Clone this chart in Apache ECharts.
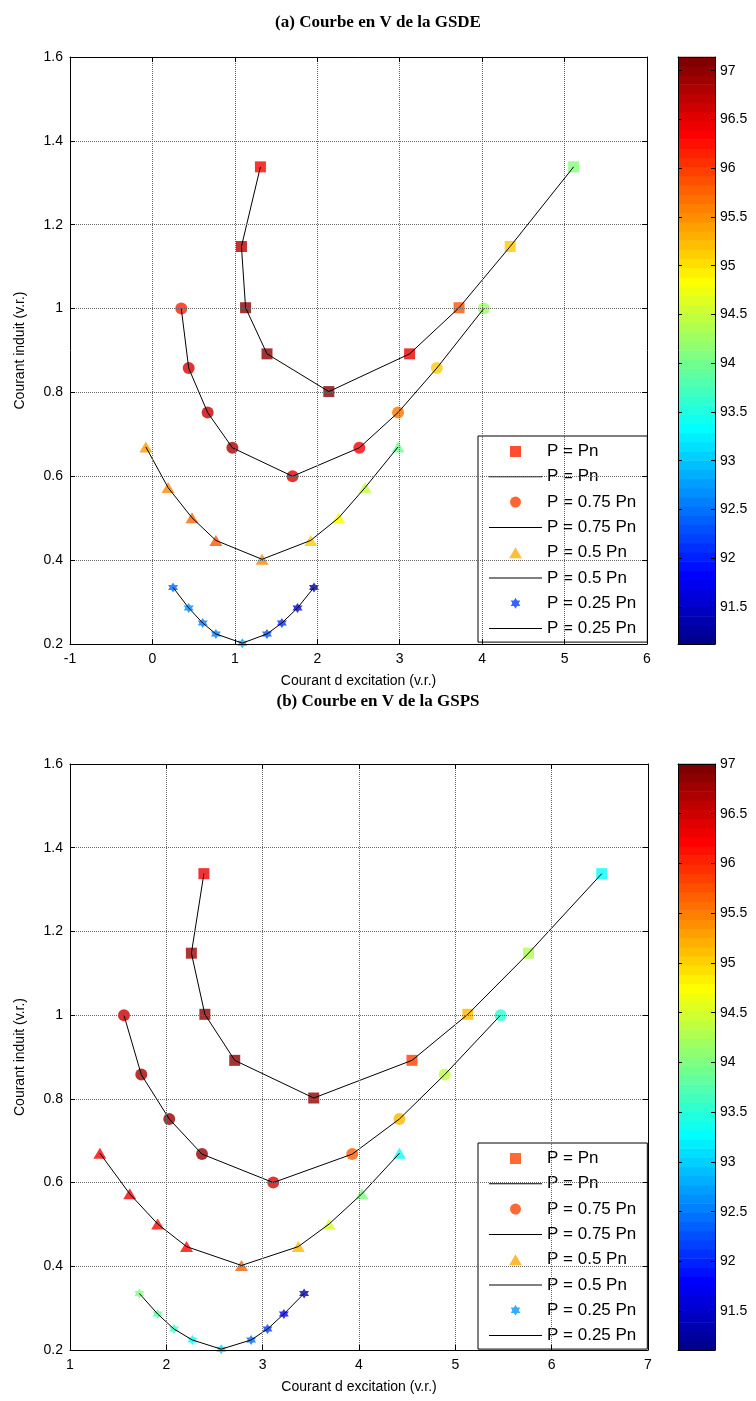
<!DOCTYPE html>
<html><head><meta charset="utf-8">
<script src="https://cdn.jsdelivr.net/npm/echarts@6/dist/echarts.min.js"></script>
<style>html,body{margin:0;padding:0;background:#fff}#c{width:756px;height:1401px}</style>
</head><body><div id="c"></div>
<script>
// ---------------- data ----------------
const curveNames = ['P = Pn', 'P = 0.75 Pn', 'P = 0.5 Pn', 'P = 0.25 Pn'];
// armature current (v.r.) - same for both machines
const yPn  = [1.338, 1.148, 1.002, 0.892, 0.802, 0.892, 1.002, 1.148, 1.338];
const y075 = [1.0, 0.858, 0.752, 0.668, 0.6, 0.668, 0.752, 0.858, 1.0];
const y050 = [0.67, 0.573, 0.501, 0.447, 0.402, 0.447, 0.501, 0.573, 0.67];
const y025 = [0.335, 0.286, 0.25, 0.224, 0.202, 0.224, 0.25, 0.286, 0.335];

// (a) GSDE : excitation current and efficiency (colour)
const xA_Pn  = [1.31, 1.08, 1.13, 1.39, 2.14, 3.12, 3.72, 4.34, 5.11];
const eA_Pn  = [96.4, 96.8, 97.05, 97.05, 97.1, 96.5, 95.9, 95.17, 94.12];
const xA_075 = [0.35, 0.44, 0.67, 0.97, 1.70, 2.51, 2.98, 3.45, 4.02];
const eA_075 = [96.2, 96.6, 96.7, 96.9, 96.55, 96.4, 95.68, 95.15, 94.27];
const xA_050 = [-0.08, 0.19, 0.48, 0.77, 1.33, 1.92, 2.26, 2.58, 2.98];
const eA_050 = [95.47, 95.56, 95.77, 95.86, 95.56, 95.17, 94.87, 94.48, 93.97];
const xA_025 = [0.25, 0.44, 0.61, 0.77, 1.09, 1.39, 1.57, 1.76, 1.96];
const eA_025 = [92.44, 92.62, 92.55, 92.55, 92.8, 92.25, 92.05, 91.55, 91.15];

// (b) GSPS
const xB_Pn  = [2.39, 2.26, 2.40, 2.71, 3.53, 4.55, 5.13, 5.76, 6.52];
const eB_Pn  = [96.35, 96.8, 96.95, 96.9, 96.9, 95.88, 95.17, 94.29, 93.29];
const xB_075 = [1.56, 1.74, 2.03, 2.37, 3.11, 3.93, 4.42, 4.89, 5.47];
const eB_075 = [96.56, 96.76, 96.85, 96.85, 96.45, 95.7, 95.17, 94.4, 93.5];
const xB_050 = [1.31, 1.62, 1.91, 2.21, 2.78, 3.37, 3.69, 4.03, 4.42];
const eB_050 = [96.3, 96.3, 96.2, 96.2, 95.7, 95.17, 94.5, 94.0, 93.29];
const xB_025 = [1.72, 1.91, 2.08, 2.27, 2.57, 2.88, 3.05, 3.22, 3.43];
const eB_025 = [94.0, 93.8, 93.6, 93.3, 93.0, 92.4, 92.1, 91.7, 91.3];

const colorbarTicks = [91.5, 92, 92.5, 93, 93.5, 94, 94.5, 95, 95.5, 96, 96.5, 97];
const cbRangeA = [91.12, 97.14];
const cbRangeB = [91.11, 97.0];
const xRangeA = [-1, 6];
const xRangeB = [1, 7];
const yRange = [0.2, 1.6];

const titles = ['(a) Courbe en V de la GSDE', '(b) Courbe en V de la GSPS'];
const xName = 'Courant d excitation (v.r.)';
const yName = 'Courant induit (v.r.)';
const legendColorsA = ['#ff2000', '#ff4000', '#ffb000', '#0040ff'];
const legendColorsB = ['#ff4400', '#ff4400', '#ffaa00', '#0099ff'];

// ---------------- colour map (MATLAB jet, 64) ----------------
function jet(m) {
  const n = Math.ceil(m / 4), u = [];
  for (let i = 1; i <= n; i++) u.push(i / n);
  for (let i = 0; i < n - 1; i++) u.push(1);
  for (let i = n; i >= 1; i--) u.push(i / n);
  const g0 = Math.ceil(n / 2) - ((m % 4) === 1 ? 1 : 0);
  const J = Array.from({length: m}, () => [0, 0, 0]);
  for (let k = 0; k < u.length; k++) {
    const g = g0 + k + 1, r = g + n, b = g - n;
    if (r >= 1 && r <= m) J[r - 1][0] = u[k];
    if (g >= 1 && g <= m) J[g - 1][1] = u[k];
    if (b >= 1 && b <= m) J[b - 1][2] = u[k];
  }
  return J.map(c => 'rgb(' + c.map(v => Math.round(v * 255)).join(',') + ')');
}
const JET = jet(64);

const HEX = 'path://M0,-10L2.887,-5L8.66,-5L5.774,0L8.66,5L2.887,5L0,10L-2.887,5L-8.66,5L-5.774,0L-8.66,-5L-2.887,-5Z';
const LINEICON = 'path://M0,0L53,0L53,1L0,1Z';
const SQ = 'path://M0,0L10,0L10,10L0,10Z';
const TRI = 'path://M5,0L10,8.7L0,8.7Z';
const symbols = ['rect', 'circle', 'triangle', HEX];
const legendIcons = [SQ, 'circle', TRI, HEX];
const symSizes = [11, 12, [13, 11], 10];
const FONT = 'Liberation Sans';

const chart = echarts.init(document.getElementById('c'), null, {renderer: 'canvas'});

const grids = [
  {left: 70, top: 57, width: 577, height: 587},
  {left: 70, top: 764, width: 578, height: 586},
  {left: 678, top: 57, width: 37, height: 587},
  {left: 678, top: 764, width: 37, height: 586}
];

const xAxes = [], yAxes = [];
function mainAxes(gi, xr) {
  const lineC = {show: true, onZero: false, lineStyle: {color: '#000', width: 1}};
  const tick = {show: true, inside: true, length: 5, lineStyle: {color: '#000'}};
  const lab = {color: '#000', fontFamily: FONT, fontSize: 14};
  xAxes.push({type: 'value', gridIndex: gi, position: 'bottom', min: xr[0], max: xr[1], interval: 1,
    axisLine: lineC, axisTick: tick, axisLabel: Object.assign({margin: 8}, lab),
    splitLine: {show: true, lineStyle: {color: '#666', type: 'dotted', width: 1}},
    name: xName, nameLocation: 'middle', nameGap: 30,
    nameTextStyle: {color: '#000', fontFamily: FONT, fontSize: 14}, z: 5});
  xAxes.push({type: 'value', gridIndex: gi, position: 'top', min: xr[0], max: xr[1], interval: 1,
    axisLine: lineC, axisTick: tick, axisLabel: {show: false}, splitLine: {show: false}, z: 5});
  yAxes.push({type: 'value', gridIndex: gi, position: 'left', min: yRange[0], max: yRange[1], interval: 0.2,
    axisLine: lineC, axisTick: tick, axisLabel: Object.assign({margin: 7}, lab),
    splitLine: {show: true, lineStyle: {color: '#666', type: 'dotted', width: 1}},
    name: yName, nameLocation: 'middle', nameGap: 43, nameRotate: 90,
    nameTextStyle: {color: '#000', fontFamily: FONT, fontSize: 14}, z: 5});
  yAxes.push({type: 'value', gridIndex: gi, position: 'right', min: yRange[0], max: yRange[1], interval: 0.2,
    axisLine: lineC, axisTick: tick, axisLabel: {show: false}, splitLine: {show: false}, z: 5});
}
function cbAxes(gi, r) {
  const lineC = {show: true, onZero: false, lineStyle: {color: '#000', width: 1}};
  const tick = {show: true, inside: true, length: 4, customValues: colorbarTicks, lineStyle: {color: '#000'}};
  xAxes.push({type: 'value', gridIndex: gi, position: 'bottom', min: 0, max: 1,
    axisLine: lineC, axisTick: {show: false}, axisLabel: {show: false}, splitLine: {show: false}, z: 10});
  xAxes.push({type: 'value', gridIndex: gi, position: 'top', min: 0, max: 1,
    axisLine: lineC, axisTick: {show: false}, axisLabel: {show: false}, splitLine: {show: false}, z: 10});
  yAxes.push({type: 'value', gridIndex: gi, position: 'right', min: r[0], max: r[1],
    axisLine: lineC, axisTick: tick,
    axisLabel: {show: true, customValues: colorbarTicks, margin: 5, color: '#000', fontFamily: FONT, fontSize: 14},
    splitLine: {show: false}, z: 10});
  yAxes.push({type: 'value', gridIndex: gi, position: 'left', min: r[0], max: r[1],
    axisLine: lineC, axisTick: tick, axisLabel: {show: false}, splitLine: {show: false}, z: 10});
}
mainAxes(0, xRangeA);   // x 0,1  y 0,1
mainAxes(1, xRangeB);   // x 2,3  y 2,3
cbAxes(2, cbRangeA);    // x 4,5  y 4,5
cbAxes(3, cbRangeB);    // x 6,7  y 6,7

const series = [];
const setsA = [[xA_Pn, yPn, eA_Pn], [xA_075, y075, eA_075], [xA_050, y050, eA_050], [xA_025, y025, eA_025]];
const setsB = [[xB_Pn, yPn, eB_Pn], [xB_075, y075, eB_075], [xB_050, y050, eB_050], [xB_025, y025, eB_025]];
const legendData = [[], []];
const scatterIdx = [[], []];
function addChart(ci, sets, xi, yi, legCols) {
  sets.forEach((s, k) => {
    const suffixM = ' '.repeat(ci * 2), suffixL = ' '.repeat(ci * 2 + 1);
    const nm = curveNames[k] + suffixM, nl = curveNames[k] + suffixL;
    scatterIdx[ci].push(series.length);
    series.push({type: 'scatter', name: nm, xAxisIndex: xi, yAxisIndex: yi,
      symbol: symbols[k], symbolSize: symSizes[k], z: 2,
      data: s[0].map((x, i) => [x, s[1][i], s[2][i]])});
    series.push({type: 'line', name: nl, xAxisIndex: xi, yAxisIndex: yi, symbol: 'none', z: 3,
      lineStyle: {color: '#000', width: 1}, itemStyle: {color: '#000'},
      data: s[0].map((x, i) => [x, s[1][i]])});
    legendData[ci].push({name: nm, icon: legendIcons[k], itemStyle: {color: legCols[k]}});
    legendData[ci].push({name: nl, icon: LINEICON, itemStyle: {color: '#000'}});
  });
}
addChart(0, setsA, 0, 0, legendColorsA);
addChart(1, setsB, 2, 2, legendColorsB);

function colorbarSeries(xi, yi, r) {
  return {type: 'custom', xAxisIndex: xi, yAxisIndex: yi, z: 1, silent: true,
    data: JET.map((c, i) => [i]),
    renderItem: function (params, api) {
      const i = api.value(0), step = (r[1] - r[0]) / JET.length;
      const lo = r[0] + i * step, hi = lo + step;
      const p1 = api.coord([0, hi]), p2 = api.coord([1, lo]);
      return {type: 'rect', shape: {x: p1[0], y: p1[1] - 0.3, width: p2[0] - p1[0], height: p2[1] - p1[1] + 0.6},
        style: {fill: JET[i]}};
    }};
}
series.push(colorbarSeries(4, 4, cbRangeA));
series.push(colorbarSeries(6, 6, cbRangeB));

const legendCommon = {
  orient: 'vertical', itemWidth: 53, itemHeight: 11, itemGap: 8.3,
  backgroundColor: '#fff', borderColor: '#000', borderWidth: 1,
  padding: [7, 11, 5, 11], selectedMode: false,
  textStyle: {color: '#000', fontFamily: FONT, fontSize: 17, lineHeight: 17},
  formatter: n => n.trim()
};

chart.setOption({
  animation: false,
  backgroundColor: '#fff',
  title: [
    {text: titles[0], left: 'center', top: 9, textStyle: {fontFamily: 'Liberation Serif', fontWeight: 'bold', fontSize: 17, color: '#000'}},
    {text: titles[1], left: 'center', top: 688, textStyle: {fontFamily: 'Liberation Serif', fontWeight: 'bold', fontSize: 17, color: '#000'}}
  ],
  grid: grids,
  xAxis: xAxes,
  yAxis: yAxes,
  visualMap: [
    {type: 'continuous', show: false, dimension: 2, seriesIndex: scatterIdx[0], min: cbRangeA[0], max: cbRangeA[1], inRange: {color: JET}},
    {type: 'continuous', show: false, dimension: 2, seriesIndex: scatterIdx[1], min: cbRangeB[0], max: cbRangeB[1], inRange: {color: JET}}
  ],
  legend: [
    Object.assign({left: 478, top: 436, data: legendData[0]}, legendCommon),
    Object.assign({left: 478, top: 1143, data: legendData[1]}, legendCommon)
  ],
  series: series
});
</script>
</body></html>
